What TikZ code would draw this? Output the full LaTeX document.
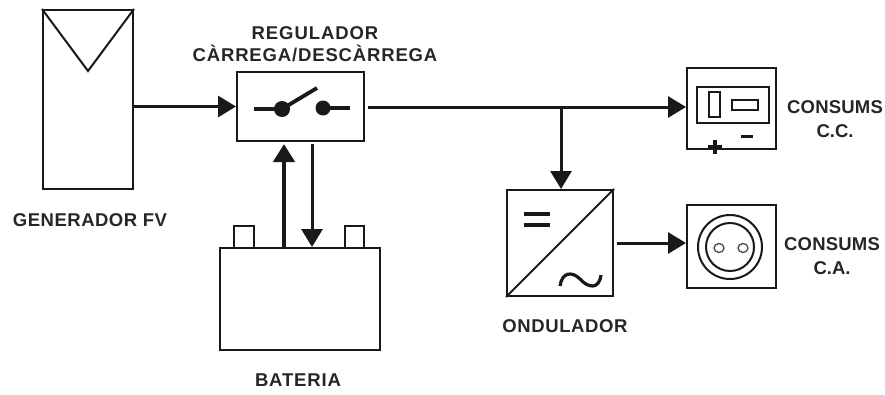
\documentclass[tikz,border=0pt]{standalone}
\usepackage{fontspec}
\setmainfont{Liberation Sans}
\usetikzlibrary{arrows.meta}
\tikzset{
  line/.style={draw=black!90, line width=2pt},
  conn/.style={draw=black!90, line width=3pt, -{Triangle[length=18pt,width=21pt]}},
  plain/.style={draw=black!90, line width=3pt},
  lab/.style={font=\fontsize{18.5pt}{24pt}\selectfont\bfseries, text=black!85, align=center, inner sep=0pt},
  blackdot/.style={circle, fill=black!90, minimum size=12pt, inner sep=0pt}
}
\newcommand{\spc}[1]{\addfontfeatures{LetterSpace=#1}}
\begin{document}
\begin{tikzpicture}[x=1pt,y=-1pt]
\useasboundingbox (0,0) rectangle (885,394);
% boxes
\node[line,minimum width=90pt,minimum height=179pt,inner sep=0pt] (panel) at (88,99.5) {};
\node[line,minimum width=127pt,minimum height=69pt,inner sep=0pt] (reg) at (300.5,106.5) {};
\node[line,minimum width=160pt,minimum height=102pt,inner sep=0pt] (bat) at (300,299) {};
\node[line,minimum width=20pt,minimum height=22pt,inner sep=0pt] (t1) at (244,237) {};
\node[line,minimum width=19pt,minimum height=22pt,inner sep=0pt] (t2) at (354.5,237) {};
\node[line,minimum width=89pt,minimum height=81pt,inner sep=0pt] (cc) at (731.5,108.5) {};
\node[line,minimum width=89pt,minimum height=83pt,inner sep=0pt] (ca) at (731.5,246.5) {};
\node[line,minimum width=106pt,minimum height=106pt,inner sep=0pt] (inv) at (560,243) {};
% panel V
\draw[line] (panel.north west) -- (88,71) -- (panel.north east);
% switch
\node[blackdot,minimum size=16pt] (s1) at (282,109) {};
\node[blackdot,minimum size=15pt] (s2) at (323,108) {};
\coordinate (sa) at (254,109);
\coordinate (sb) at (317,88);
\coordinate (sc) at (350,108);
\draw[line width=3.8pt,black!90] (sa) -- (s1.center) -- (sb);
\draw[line width=3.8pt,black!90] (s2.center) -- (sc);
% dc load
\draw[line] (697,87) rectangle (769,123);
\draw[line] (709,92) rectangle (720,117);
\draw[line] (732,100) rectangle (758,110);
\draw[plain] (741,136) -- (753,136);
\draw[line width=4.5pt,black!90] (708,147) -- (722,147) (715,140) -- (715,154);
% ac load
\draw[line] (730,247) circle (32pt);
\draw[line] (730,247) circle (24pt);
\draw[line width=1.3pt,black!70] (719,248) ellipse (5pt and 4.5pt);
\draw[line width=1.3pt,black!70] (743,248) ellipse (5pt and 4.5pt);
% inverter
\draw[line] (inv.south west) -- (inv.north east);
\draw[line width=3.8pt,black!90] (524,214) -- (550,214) (524,225) -- (550,225);
\draw[line width=3.2pt,black!90] (560,286) .. controls (562,272) and (572,271) .. (580,279) .. controls (588,288) and (599,290) .. (601,275);
% connectors
\coordinate (j) at (561,107);
\coordinate (ro) at (368,107);
\coordinate (io) at (617,243);
\coordinate (upa) at (284,144);
\coordinate (dna) at (312,144);
\draw[conn] (panel.east |- reg.west) -- (reg.west);
\draw[plain] (ro) -- (j);
\draw[conn] (j) -- (cc.west |- j);
\draw[conn] (j) -- (inv.north -| j);
\draw[conn] (io) -- (ca.west |- io);
\draw[conn,line width=4.5pt] (bat.north -| upa) -- (upa);
\draw[conn] (dna) -- (bat.north -| dna);
% labels
\node[lab,font=\fontsize{18.5pt}{22pt}\selectfont\bfseries] (lreg) at (315,44) {{\spc{5}REGULADOR}\\{\spc{4.6}CÀRREGA/DESCÀRREGA}};
\node[lab] (lgen) at (90,220) {{\spc{2.7}GENERADOR FV}};
\node[lab] (lbat) at (298,380) {{\spc{4.6}BATERIA}};
\node[lab] (lond) at (565,326) {{\spc{3.3}ONDULADOR}};
\node[lab] (lcc) at (835,119) {{\spc{1}CONSUMS}\\C.C.};
\node[lab] (lca) at (832,256) {{\spc{1}CONSUMS}\\C.A.};
\end{tikzpicture}
\end{document}
